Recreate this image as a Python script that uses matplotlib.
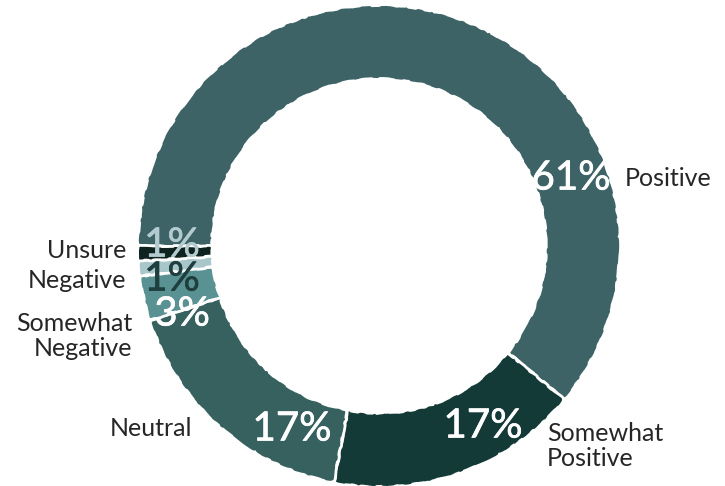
import matplotlib
matplotlib.use("Agg")
import matplotlib.pyplot as plt
import matplotlib.patheffects as pe

plt.rcParams['font.family'] = ['Lato', 'DejaVu Sans']

categories = ["Positive", "Somewhat\nPositive", "Neutral",
              "Somewhat\nNegative", "Negative", "Unsure"]
shares = [61, 17, 17, 3, 1, 1]
pct_labels = ["61%", "17%", "17%", "3%", "1%", "1%"]

slice_colors = ["#3d6367", "#143a37", "#36615e", "#5a9293", "#a9c7ca", "#0e2220"]
pct_colors = ["white", "white", "white", "white", "#1e3f3d", "#b3cbce"]

# text anchors in pixel space (origin bottom-left)
pct_pos = [(571, 308), (483, 60), (292, 57), (182, 172), (172, 207), (172, 241)]
cat_pos = [(625, 308), (547, 40), (192, 58), (132, 150), (126, 206), (126, 236)]
cat_ha = ["left", "left", "right", "right", "right", "right"]

W, H = 725, 486
fig = plt.figure(figsize=(W / 100, H / 100), dpi=100)
ax = fig.add_axes([0, 0, 1, 1])

wedges, _ = ax.pie(shares, colors=slice_colors, startangle=180,
                   counterclock=False, radius=241, center=(379, 240),
                   wedgeprops=dict(width=74, edgecolor="white", linewidth=2))
# slightly rough, hand-drawn edges
for w in wedges:
    w.set_sketch_params(scale=0.6, length=60, randomness=20)

for txt, (x, y), c in zip(pct_labels, pct_pos, pct_colors):
    ax.text(x, y, txt, color=c, fontsize=29, ha="center", va="center",
            path_effects=[pe.withStroke(linewidth=0.5, foreground=c)])

for txt, (x, y), ha in zip(categories, cat_pos, cat_ha):
    ax.text(x, y, txt, color="#262626", fontsize=18, ha=ha, va="center",
            linespacing=1.1, multialignment=ha)

ax.set_xlim(0, W)
ax.set_ylim(0, H)
ax.set_aspect("equal")
ax.axis("off")

fig.savefig("out.png", dpi=100)
